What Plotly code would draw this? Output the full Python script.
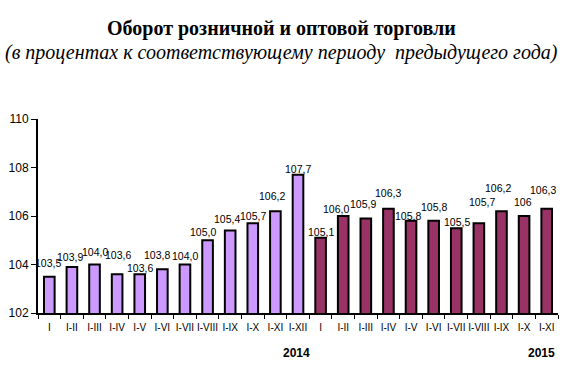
import plotly.graph_objects as go

months = ["I", "I-II", "I-III", "I-IV", "I-V", "I-VI", "I-VII", "I-VIII", "I-IX", "I-X", "I-XI", "I-XII",
          "I", "I-II", "I-III", "I-IV", "I-V", "I-VI", "I-VII", "I-VIII", "I-IX", "I-X", "I-XI"]
years = ["2014"] * 12 + ["2015"] * 11
values = [103.5, 103.9, 104.0, 103.6, 103.6, 103.8, 104.0, 105.0, 105.4, 105.7, 106.2, 107.7,
          105.1, 106.0, 105.9, 106.3, 105.8, 105.8, 105.5, 105.7, 106.2, 106.0, 106.3]
value_labels = ["103,5", "103,9", "104,0", "103,6", "103,6", "103,8", "104,0", "105,0", "105,4", "105,7",
                "106,2", "107,7", "105,1", "106,0", "105,9", "106,3", "105,8", "105,8", "105,5", "105,7",
                "106,2", "106", "106,3"]

# label placement offsets (pixels), mimicking staggered labels
label_dy = [14, 10, 13, 19, 6, 14, 9, 8, 12, 7, 15, 6, 6, 7, 14, 16, 5, 14, 6, 21, 23, 14, 19]
label_dx = [-1, -2, 0, 1, 0, -5, 0, -5, -3, 0, -3, 0, 0, -7, -3, 0, -3, 0, 1, 3, -3, -1, -4]

colors = {"2014": "#CC99FF", "2015": "#993366"}
xs = list(range(len(values)))

fig = go.Figure()
fig.add_trace(go.Bar(
    x=xs, y=values,
    marker=dict(color=[colors[y] for y in years], line=dict(color="black", width=2)),
    width=0.47, showlegend=False, hoverinfo="skip",
))

for i, (v, t) in enumerate(zip(values, value_labels)):
    fig.add_annotation(x=i, y=v, text=t, showarrow=False, xref="x", yref="y",
                       yanchor="middle", yshift=label_dy[i], xshift=label_dx[i],
                       font=dict(family="Liberation Sans", size=10.5, color="black"))

# year labels
year_dx = {"2014": -2, "2015": -5}
for yr in ["2014", "2015"]:
    idx = max(i for i, y in enumerate(years) if y == yr)
    fig.add_annotation(x=idx, y=0, yref="paper", yshift=-40, xshift=year_dx[yr], yanchor="middle",
                       text="<b>" + yr + "</b>",
                       showarrow=False, font=dict(family="Liberation Sans", size=12, color="black"))

fig.add_annotation(x=0.5, xref="paper", xshift=-17, y=1, yref="paper", yshift=91, yanchor="middle",
                   text="<b>Оборот розничной и оптовой торговли</b>", showarrow=False,
                   font=dict(family="Liberation Serif", size=20, color="black"))
fig.add_annotation(x=0.5, xref="paper", xshift=-17, y=1, yref="paper", yshift=67, yanchor="middle",
                   text="<i>(в процентах к соответствующему периоду  предыдущего года)</i>", showarrow=False,
                   font=dict(family="Liberation Serif", size=20, color="black"))

fig.update_layout(
    width=563, height=366,
    margin=dict(l=38, r=5, t=119, b=53),
    paper_bgcolor="white", plot_bgcolor="white",
    xaxis=dict(range=[-0.5, len(values) - 0.5], tickmode="array", tickvals=xs, ticktext=months,
               ticks="", showgrid=False, zeroline=False, showline=True, linecolor="black", linewidth=2,
               tickfont=dict(family="Liberation Sans", size=10, color="black"), ticklabelstandoff=4,
               minor=dict(ticks="outside", tickmode="linear", tick0=-0.5, dtick=1, ticklen=4,
                          tickcolor="black", tickwidth=1, showgrid=False)),
    yaxis=dict(range=[102, 110], tickmode="linear", tick0=102, dtick=2, ticks="outside", ticklen=5,
               tickcolor="black", showgrid=False, zeroline=False, showline=True, linecolor="black",
               linewidth=2, tickfont=dict(family="Liberation Sans", size=12, color="black")),
)

fig.write_html("out.html", config={"displayModeBar": False, "staticPlot": True})

with open("out.html", "r", encoding="utf-8") as f:
    html = f.read()
html = html.replace("<head>", "<head><style>html,body{margin:0;padding:0;overflow:hidden;}</style>", 1)
with open("out.html", "w", encoding="utf-8") as f:
    f.write(html)
